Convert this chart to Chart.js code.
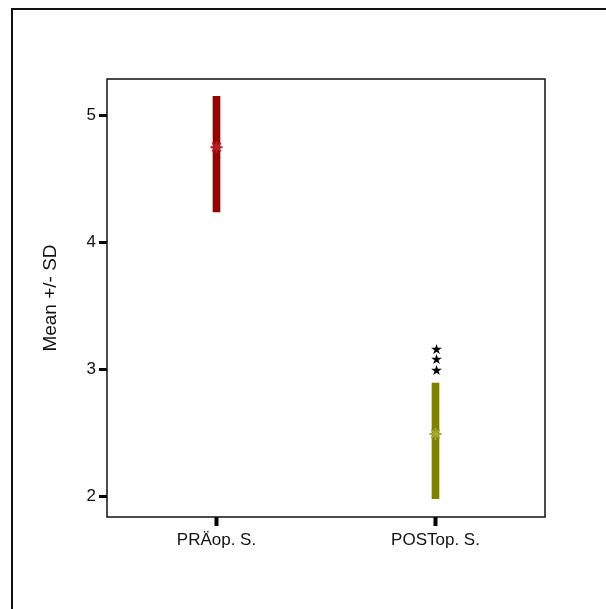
<!doctype html>
<html lang="de">
  <head>
    <meta charset="UTF-8">
    <title>Mean +/- SD</title>
    <style>
      body { margin: 0; background: #fff; }
      #wrap { position: relative; width: 606px; height: 609px; }
      #frame { position: absolute; left: 11px; top: 8px; width: 700px; height: 700px;
               border-left: 2px solid #111; border-top: 2px solid #111; box-sizing: border-box; }
      canvas { position: absolute; left: 0; top: 0; }
    </style>
  </head>
  <body>
    <div id="wrap">
      <div id="frame"></div>
      <canvas id="myChart" width="606" height="609"></canvas>
    </div>
    <script src="https://cdn.jsdelivr.net/npm/chart.js@4.4.1/dist/chart.umd.min.js"></script>
    <script>
    // Data-----
    const categories = ['PRÄop. S.', 'POSTop. S.'];
    const means = [4.75, 2.49];
    const sdLow = [4.24, 1.98];
    const sdHigh = [5.15, 2.89];
    const sigLabels = ['', '***'];
    const yTicks = [2, 3, 4, 5];
    const barColors = ['#990000', '#808000'];
    const markerColors = ['#b82020', '#a6a630'];
    // Data-----

    const font = "'Liberation Sans', Arial, sans-serif";

    // box around the plot area
    const plotBox = {
        id: 'plotBox',
        afterDraw(chart) {
            const {ctx, chartArea: a} = chart;
            ctx.save();
            ctx.strokeStyle = '#111';
            ctx.lineWidth = 1.5;
            ctx.strokeRect(a.left, a.top, a.right - a.left, a.bottom - a.top);
            ctx.restore();
        }
    };

    // significance stars above the SD bar
    const sigStars = {
        id: 'sigStars',
        afterDatasetsDraw(chart) {
            const {ctx, scales} = chart;
            ctx.save();
            ctx.fillStyle = '#000';
            ctx.font = "14px 'DejaVu Sans'";
            ctx.textAlign = 'center';
            ctx.textBaseline = 'middle';
            sigLabels.forEach((s, i) => {
                const x = scales.x.getPixelForValue(i) + 1;
                const y0 = scales.y.getPixelForValue(sdHigh[i]);
                for (let k = 0; k < s.length; k++) {
                    ctx.fillText('★', x, y0 - 12 - k * 10.3);
                }
            });
            ctx.restore();
        }
    };

    const config = {
        type: 'bar',
        data: {
            labels: categories,
            datasets: [{
                type: 'line',
                label: 'Mean',
                data: means,
                showLine: false,
                pointStyle: 'star',
                radius: 6,
                borderWidth: 2,
                borderColor: markerColors,
                backgroundColor: markerColors,
                order: 0
            }, {
                label: 'SD',
                data: sdLow.map((v, i) => [v, sdHigh[i]]),
                backgroundColor: barColors,
                barThickness: 7,
                borderSkipped: false,
                order: 1
            }]
        },
        options: {
            responsive: false,
            animation: false,
            layout: { padding: { left: 0, right: 61, top: 79, bottom: 0 } },
            plugins: { legend: { display: false }, tooltip: { enabled: false } },
            scales: {
                x: {
                    type: 'category',
                    offset: true,
                    grid: { offset: false, drawOnChartArea: false, tickLength: 9, tickWidth: 4, tickColor: '#000' },
                    border: { display: false },
                    ticks: { color: '#111', padding: 4, font: { family: font, size: 17 } },
                    afterFit(s) { s.height = 92; }
                },
                y: {
                    min: 1.835,
                    max: 5.287,
                    grid: { drawOnChartArea: false, tickLength: 8, tickWidth: 3, tickColor: '#000' },
                    border: { display: false },
                    ticks: { color: '#111', padding: 3, font: { family: font, size: 17 } },
                    afterBuildTicks(s) { s.ticks = yTicks.map(v => ({value: v})); },
                    title: {
                        display: true,
                        text: 'Mean +/- SD',
                        color: '#111',
                        padding: { top: 39, bottom: 0 },
                        font: { family: font, size: 19 }
                    },
                    afterFit(s) { s.width = 107; }
                }
            }
        },
        plugins: [plotBox, sigStars]
    };

    var myChart = new Chart(document.getElementById('myChart'), config);
    </script>
  </body>
</html>
